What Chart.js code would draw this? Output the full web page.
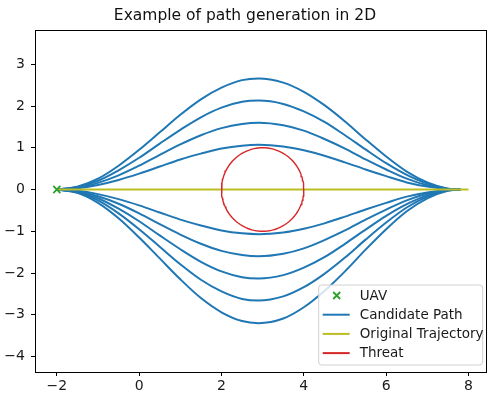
<!DOCTYPE html>
<html lang="en">
<head>
    <meta charset="UTF-8">
    <title>Example of path generation in 2D</title>
    <script src="https://cdn.jsdelivr.net/npm/chart.js"></script>
    <style>
        html, body { margin: 0; padding: 0; background: #fff; }
        #wrap { width: 493px; height: 396px; }
    </style>
</head>
<body>
    <div id="wrap"><canvas id="pathChart" width="493" height="396"></canvas></div>

    <script>
        const pathX = [-2, -1.5, -1, -0.5, 0, 0.5, 1, 1.5, 2, 2.5, 2.9, 3.5, 4, 4.5, 5, 5.5, 6, 6.5, 7, 7.5, 7.8];

        // candidate paths (top to bottom)
        const path1 = [0, 0.07, 0.26, 0.57, 0.95, 1.37, 1.79, 2.16, 2.44, 2.62, 2.66, 2.56, 2.34, 2.02, 1.63, 1.20, 0.79, 0.43, 0.17, 0.02, 0];
        const path2 = [0, 0.06, 0.21, 0.46, 0.76, 1.10, 1.43, 1.73, 1.96, 2.10, 2.13, 2.05, 1.87, 1.62, 1.30, 0.96, 0.63, 0.35, 0.14, 0.02, 0];
        const path3 = [0, 0.04, 0.16, 0.34, 0.57, 0.83, 1.08, 1.30, 1.47, 1.57, 1.60, 1.54, 1.41, 1.21, 0.98, 0.72, 0.48, 0.26, 0.10, 0.01, 0];
        const path4 = [0, 0.03, 0.11, 0.23, 0.38, 0.55, 0.72, 0.86, 0.98, 1.05, 1.07, 1.03, 0.94, 0.81, 0.65, 0.48, 0.32, 0.17, 0.07, 0.01, 0];
        const path5 = [0, -0.03, -0.11, -0.23, -0.38, -0.55, -0.72, -0.86, -0.98, -1.05, -1.07, -1.03, -0.94, -0.81, -0.65, -0.48, -0.32, -0.17, -0.07, -0.01, 0];
        const path6 = [0, -0.04, -0.16, -0.34, -0.57, -0.83, -1.08, -1.30, -1.47, -1.57, -1.60, -1.54, -1.41, -1.21, -0.98, -0.72, -0.48, -0.26, -0.10, -0.01, 0];
        const path7 = [0, -0.06, -0.21, -0.46, -0.76, -1.10, -1.43, -1.73, -1.96, -2.10, -2.13, -2.05, -1.87, -1.62, -1.30, -0.96, -0.63, -0.35, -0.14, -0.02, 0];
        const path8 = [0, -0.07, -0.26, -0.57, -0.95, -1.37, -1.79, -2.16, -2.44, -2.62, -2.66, -2.56, -2.34, -2.02, -1.63, -1.20, -0.79, -0.43, -0.17, -0.02, 0];
        const path9 = [0, -0.08, -0.32, -0.69, -1.15, -1.65, -2.15, -2.60, -2.94, -3.15, -3.20, -3.09, -2.82, -2.43, -1.96, -1.44, -0.95, -0.52, -0.21, -0.03, 0];

        // original trajectory
        const trajX = [-2, 8];
        const trajY = [0, 0];

        // UAV start
        const uavX = [-2];
        const uavY = [0];

        // threat circle
        const threatCenter = [3, 0];
        const threatRadius = 1;

        // axes
        const xTicks = [-2, 0, 2, 4, 6, 8];
        const yTicks = [-4, -3, -2, -1, 0, 1, 2, 3];
        const legendLabels = ['UAV', 'Candidate Path', 'Original Trajectory', 'Threat'];

        const BLUE = '#1f77b4';
        const OLIVE = '#bcbd22';
        const RED = '#d62728';
        const GREEN = '#2ca02c';
        const FONT = '"DejaVu Sans", sans-serif';

        const toPoints = (xs, ys) => xs.map((x, i) => ({ x: x, y: ys[i] }));

        // circle outline from center + radius
        const circlePts = [];
        for (let i = 0; i <= 120; i++) {
            const a = (i / 120) * Math.PI * 2;
            circlePts.push({ x: threatCenter[0] + threatRadius * Math.cos(a), y: threatCenter[1] + threatRadius * Math.sin(a) });
        }

        const paths = [path1, path2, path3, path4, path5, path6, path7, path8, path9];
        const datasets = paths.map((p, i) => ({
            label: i === 0 ? 'Candidate Path' : '',
            data: toPoints(pathX, p),
            showLine: true,
            borderColor: BLUE,
            borderWidth: 2,
            pointRadius: 0,
            cubicInterpolationMode: 'monotone',
            order: 10
        }));
        datasets.push({
            label: 'Original Trajectory',
            data: toPoints(trajX, trajY),
            showLine: true,
            borderColor: OLIVE,
            borderWidth: 2,
            pointRadius: 0,
            order: 5
        });
        datasets.push({
            label: 'Threat',
            data: circlePts,
            showLine: true,
            borderColor: RED,
            borderWidth: 1.4,
            pointRadius: 0,
            tension: 0,
            order: 4
        });
        datasets.push({
            label: 'UAV',
            data: toPoints(uavX, uavY),
            showLine: false,
            pointStyle: 'crossRot',
            pointRadius: 5,
            borderColor: GREEN,
            borderWidth: 1.8,
            order: 1
        });

        // axes frame + legend box like matplotlib
        const framePlugin = {
            id: 'frame',
            afterDraw(chart) {
                const ctx = chart.ctx;
                const ca = chart.chartArea;
                ctx.save();
                ctx.strokeStyle = '#000';
                ctx.lineWidth = 1;
                ctx.strokeRect(Math.round(ca.left) + 0.5, Math.round(ca.top) + 0.5,
                    Math.round(ca.right - ca.left), Math.round(ca.bottom - ca.top));

                // legend
                const w = 164, h = 80;
                const bx = ca.right - 3.5 - w;
                const by = ca.bottom - 7 - h;
                ctx.beginPath();
                ctx.roundRect(bx, by, w, h, 3);
                ctx.fillStyle = 'rgba(255,255,255,0.8)';
                ctx.fill();
                ctx.strokeStyle = '#d0d0d0';
                ctx.lineWidth = 1;
                ctx.stroke();

                const colors = [GREEN, BLUE, OLIVE, RED];
                ctx.font = '13.5px ' + FONT;
                ctx.textBaseline = 'middle';
                ctx.textAlign = 'left';
                legendLabels.forEach((lab, i) => {
                    const ry = by + 10.5 + i * 19.2;
                    ctx.strokeStyle = colors[i];
                    if (i === 0) {
                        const cx = bx + 18, s = 3.5;
                        ctx.lineWidth = 1.8;
                        ctx.beginPath();
                        ctx.moveTo(cx - s, ry - s); ctx.lineTo(cx + s, ry + s);
                        ctx.moveTo(cx + s, ry - s); ctx.lineTo(cx - s, ry + s);
                        ctx.stroke();
                    } else {
                        ctx.lineWidth = 2;
                        ctx.beginPath();
                        ctx.moveTo(bx + 4, ry);
                        ctx.lineTo(bx + 31, ry);
                        ctx.stroke();
                    }
                    ctx.fillStyle = '#1a1a1a';
                    ctx.fillText(lab, bx + 41, ry + 0.5);
                });
                ctx.restore();
            }
        };

        const minus = v => String(v).replace('-', '\u2212');

        new Chart(document.getElementById('pathChart'), {
            type: 'scatter',
            data: { datasets: datasets },
            options: {
                responsive: false,
                animation: false,
                devicePixelRatio: 1,
                layout: { padding: { left: 0, right: 3, top: 0, bottom: 0 } },
                plugins: {
                    legend: { display: false },
                    tooltip: { enabled: false },
                    title: {
                        display: true,
                        text: 'Example of path generation in 2D',
                        color: '#111',
                        font: { family: FONT, size: 15.5, weight: 'normal', lineHeight: 1.2 },
                        padding: { top: 7, bottom: 4.4 }
                    }
                },
                scales: {
                    x: {
                        type: 'linear',
                        min: -2.53,
                        max: 8.43,
                        afterBuildTicks: s => { s.ticks = xTicks.map(v => ({ value: v })); },
                        afterFit: s => { s.height = 24; },
                        grid: { drawOnChartArea: false, drawTicks: true, tickLength: 4, color: '#000' },
                        border: { display: true, color: '#000' },
                        ticks: {
                            color: '#1a1a1a',
                            padding: 2,
                            maxRotation: 0,
                            font: { family: FONT, size: 14 },
                            callback: v => minus(v)
                        }
                    },
                    y: {
                        type: 'linear',
                        min: -4.37,
                        max: 3.82,
                        afterBuildTicks: s => { s.ticks = yTicks.map(v => ({ value: v })); },
                        afterFit: s => { s.width = 35; },
                        grid: { drawOnChartArea: false, drawTicks: true, tickLength: 4, color: '#000' },
                        border: { display: true, color: '#000' },
                        ticks: {
                            color: '#1a1a1a',
                            padding: 6,
                            font: { family: FONT, size: 14 },
                            callback: v => minus(v)
                        }
                    }
                }
            },
            plugins: [framePlugin]
        });
    </script>
</body>
</html>
